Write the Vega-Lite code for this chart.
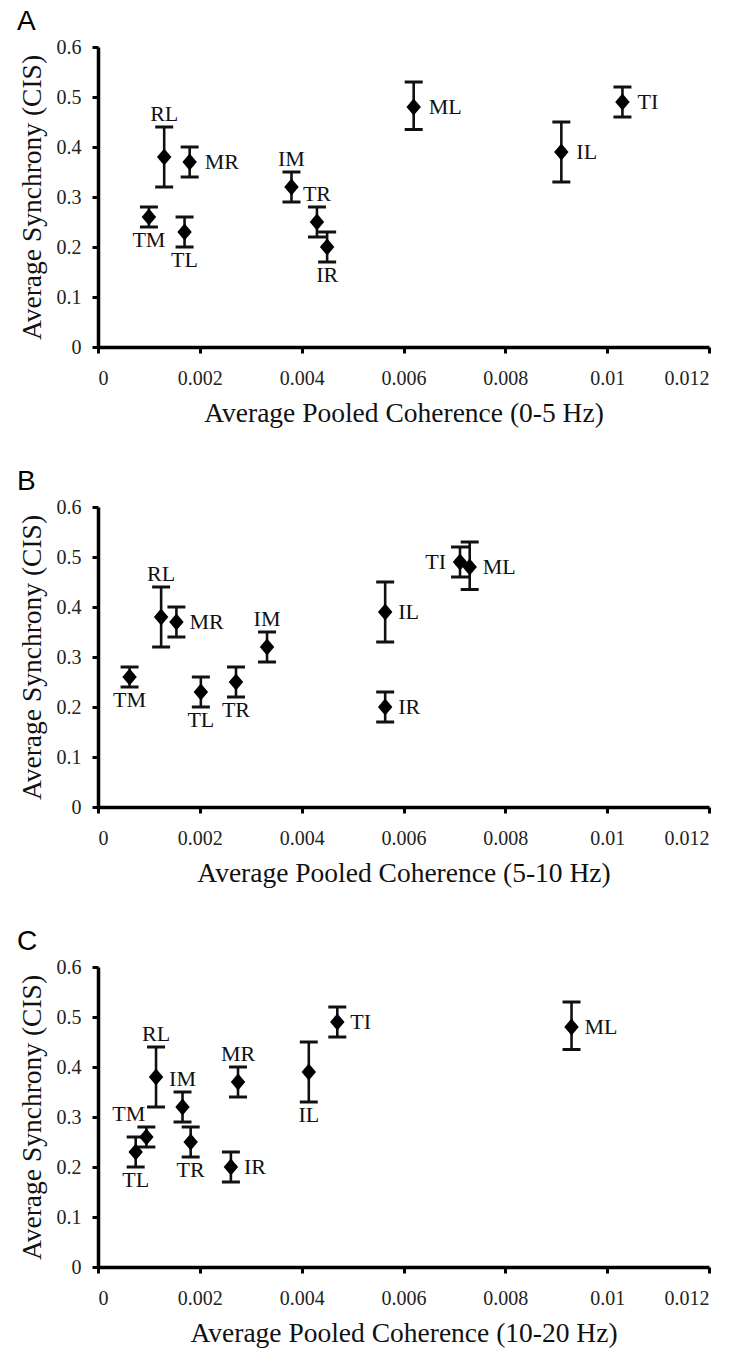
{
  "$schema": "https://vega.github.io/schema/vega-lite/v6.json",
  "background": "white",
  "padding": {"left": 17, "top": 8, "right": 3, "bottom": 1},
  "spacing": 41,
  "config": {
    "view": {"stroke": null},
    "axis": {
      "grid": false,
      "domainColor": "#000",
      "domainWidth": 3.5,
      "tickColor": "#000",
      "tickWidth": 3,
      "tickSize": 6,
      "labelFont": "Liberation Serif",
      "labelFontSize": 20,
      "labelColor": "#222",
      "titleFont": "Liberation Serif",
      "titleFontSize": 27.5,
      "titleFontWeight": "normal",
      "titleColor": "#111"
    },
    "axisX": {"labelPadding": 15, "titlePadding": 11, "labelFont": "Liberation Serif", "labelFontSize": 20},
    "axisY": {"labelPadding": 11, "titlePadding": 10, "labelFont": "Liberation Serif", "labelFontSize": 20},
    "title": {"font": "Liberation Sans", "fontSize": 28, "fontWeight": "normal", "color": "#000", "anchor": "start", "frame": "group", "dx": -81, "offset": 1, "baseline": "alphabetic"},
    "text": {"font": "Liberation Serif", "fontSize": 22, "color": "#111"}
  },
  "datasets": {
    "pts": [
      {"panel": "A", "site": "RL", "coh": 0.0013, "cis": 0.38, "lo": 0.32, "hi": 0.44},
      {"panel": "A", "site": "MR", "coh": 0.0018, "cis": 0.37, "lo": 0.34, "hi": 0.40},
      {"panel": "A", "site": "TM", "coh": 0.0010, "cis": 0.26, "lo": 0.24, "hi": 0.28},
      {"panel": "A", "site": "TL", "coh": 0.0017, "cis": 0.23, "lo": 0.20, "hi": 0.26},
      {"panel": "A", "site": "IM", "coh": 0.0038, "cis": 0.32, "lo": 0.29, "hi": 0.35},
      {"panel": "A", "site": "TR", "coh": 0.0043, "cis": 0.25, "lo": 0.22, "hi": 0.28},
      {"panel": "A", "site": "IR", "coh": 0.0045, "cis": 0.20, "lo": 0.17, "hi": 0.23},
      {"panel": "A", "site": "ML", "coh": 0.0062, "cis": 0.48, "lo": 0.435, "hi": 0.53},
      {"panel": "A", "site": "IL", "coh": 0.0091, "cis": 0.39, "lo": 0.33, "hi": 0.45},
      {"panel": "A", "site": "TI", "coh": 0.0103, "cis": 0.49, "lo": 0.46, "hi": 0.52},
      {"panel": "B", "site": "RL", "coh": 0.00124, "cis": 0.38, "lo": 0.32, "hi": 0.44},
      {"panel": "B", "site": "MR", "coh": 0.00154, "cis": 0.37, "lo": 0.34, "hi": 0.40},
      {"panel": "B", "site": "TM", "coh": 0.00062, "cis": 0.26, "lo": 0.24, "hi": 0.28},
      {"panel": "B", "site": "TL", "coh": 0.00202, "cis": 0.23, "lo": 0.20, "hi": 0.26},
      {"panel": "B", "site": "IM", "coh": 0.00332, "cis": 0.32, "lo": 0.29, "hi": 0.35},
      {"panel": "B", "site": "TR", "coh": 0.00271, "cis": 0.25, "lo": 0.22, "hi": 0.28},
      {"panel": "B", "site": "IR", "coh": 0.00564, "cis": 0.20, "lo": 0.17, "hi": 0.23},
      {"panel": "B", "site": "ML", "coh": 0.00730, "cis": 0.48, "lo": 0.435, "hi": 0.53},
      {"panel": "B", "site": "IL", "coh": 0.00564, "cis": 0.39, "lo": 0.33, "hi": 0.45},
      {"panel": "B", "site": "TI", "coh": 0.00711, "cis": 0.49, "lo": 0.46, "hi": 0.52},
      {"panel": "C", "site": "RL", "coh": 0.00114, "cis": 0.38, "lo": 0.32, "hi": 0.44},
      {"panel": "C", "site": "MR", "coh": 0.00275, "cis": 0.37, "lo": 0.34, "hi": 0.40},
      {"panel": "C", "site": "TM", "coh": 0.00095, "cis": 0.26, "lo": 0.24, "hi": 0.28},
      {"panel": "C", "site": "TL", "coh": 0.00074, "cis": 0.23, "lo": 0.20, "hi": 0.26},
      {"panel": "C", "site": "IM", "coh": 0.00166, "cis": 0.32, "lo": 0.29, "hi": 0.35},
      {"panel": "C", "site": "TR", "coh": 0.00182, "cis": 0.25, "lo": 0.22, "hi": 0.28},
      {"panel": "C", "site": "IR", "coh": 0.00261, "cis": 0.20, "lo": 0.17, "hi": 0.23},
      {"panel": "C", "site": "ML", "coh": 0.00930, "cis": 0.48, "lo": 0.435, "hi": 0.53},
      {"panel": "C", "site": "IL", "coh": 0.00414, "cis": 0.39, "lo": 0.33, "hi": 0.45},
      {"panel": "C", "site": "TI", "coh": 0.00470, "cis": 0.49, "lo": 0.46, "hi": 0.52}
    ]
  },
  "vconcat": [
    {
      "title": {"text": "A"},
      "width": 611,
      "height": 300,
      "data": {"name": "pts"},
      "transform": [{"filter": "datum.panel === 'A'"}],
      "encoding": {
        "x": {"field": "coh", "type": "quantitative", "scale": {"domain": [0, 0.012]}, "axis": {"values": [0, 0.002, 0.004, 0.006, 0.008, 0.01, 0.012], "format": "~g", "labelFont": "Liberation Serif", "labelFontSize": 20}, "title": "Average Pooled Coherence (0-5 Hz)"}
      },
      "layer": [
        {"mark": {"type": "rule", "color": "#111", "strokeWidth": 2.6}, "encoding": {"y": {"field": "lo", "type": "quantitative", "scale": {"domain": [0, 0.6]}, "axis": {"values": [0, 0.1, 0.2, 0.3, 0.4, 0.5, 0.6], "format": "~g", "labelFont": "Liberation Serif", "labelFontSize": 20}, "title": "Average Synchrony (CIS)"}, "y2": {"field": "hi"}}},
        {"mark": {"type": "tick", "orient": "horizontal", "color": "#111", "size": 18, "thickness": 3, "opacity": 1}, "encoding": {"y": {"field": "lo", "type": "quantitative", "scale": {"domain": [0, 0.6]}, "title": "Average Synchrony (CIS)"}}},
        {"mark": {"type": "tick", "orient": "horizontal", "color": "#111", "size": 18, "thickness": 3, "opacity": 1}, "encoding": {"y": {"field": "hi", "type": "quantitative", "scale": {"domain": [0, 0.6]}, "title": "Average Synchrony (CIS)"}}},
        {"mark": {"type": "point", "shape": "M-0.85,0L0,-1L0.85,0L0,1Z", "filled": true, "color": "#000", "size": 289, "opacity": 1}, "encoding": {"y": {"field": "cis", "type": "quantitative", "scale": {"domain": [0, 0.6]}, "title": "Average Synchrony (CIS)"}}},
        {"transform": [{"filter": {"field": "site", "oneOf": ["RL", "IM", "TR"]}}], "mark": {"type": "text", "baseline": "bottom", "dy": -1}, "encoding": {"y": {"field": "hi", "type": "quantitative", "scale": {"domain": [0, 0.6]}, "title": "Average Synchrony (CIS)"}, "text": {"field": "site"}}},
        {"transform": [{"filter": {"field": "site", "oneOf": ["TM", "TL", "IR"]}}], "mark": {"type": "text", "baseline": "top", "dy": 3}, "encoding": {"y": {"field": "lo", "type": "quantitative", "scale": {"domain": [0, 0.6]}, "title": "Average Synchrony (CIS)"}, "text": {"field": "site"}}},
        {"transform": [{"filter": {"field": "site", "oneOf": ["MR", "ML", "IL", "TI"]}}], "mark": {"type": "text", "align": "left", "baseline": "middle", "dx": 15}, "encoding": {"y": {"field": "cis", "type": "quantitative", "scale": {"domain": [0, 0.6]}, "title": "Average Synchrony (CIS)"}, "text": {"field": "site"}}}
      ]
    },
    {
      "title": {"text": "B"},
      "width": 611,
      "height": 300,
      "data": {"name": "pts"},
      "transform": [{"filter": "datum.panel === 'B'"}],
      "encoding": {
        "x": {"field": "coh", "type": "quantitative", "scale": {"domain": [0, 0.012]}, "axis": {"values": [0, 0.002, 0.004, 0.006, 0.008, 0.01, 0.012], "format": "~g", "labelFont": "Liberation Serif", "labelFontSize": 20}, "title": "Average Pooled Coherence (5-10 Hz)"}
      },
      "layer": [
        {"mark": {"type": "rule", "color": "#111", "strokeWidth": 2.6}, "encoding": {"y": {"field": "lo", "type": "quantitative", "scale": {"domain": [0, 0.6]}, "axis": {"values": [0, 0.1, 0.2, 0.3, 0.4, 0.5, 0.6], "format": "~g", "labelFont": "Liberation Serif", "labelFontSize": 20}, "title": "Average Synchrony (CIS)"}, "y2": {"field": "hi"}}},
        {"mark": {"type": "tick", "orient": "horizontal", "color": "#111", "size": 18, "thickness": 3, "opacity": 1}, "encoding": {"y": {"field": "lo", "type": "quantitative", "scale": {"domain": [0, 0.6]}, "title": "Average Synchrony (CIS)"}}},
        {"mark": {"type": "tick", "orient": "horizontal", "color": "#111", "size": 18, "thickness": 3, "opacity": 1}, "encoding": {"y": {"field": "hi", "type": "quantitative", "scale": {"domain": [0, 0.6]}, "title": "Average Synchrony (CIS)"}}},
        {"mark": {"type": "point", "shape": "M-0.85,0L0,-1L0.85,0L0,1Z", "filled": true, "color": "#000", "size": 289, "opacity": 1}, "encoding": {"y": {"field": "cis", "type": "quantitative", "scale": {"domain": [0, 0.6]}, "title": "Average Synchrony (CIS)"}}},
        {"transform": [{"filter": {"field": "site", "oneOf": ["RL", "IM"]}}], "mark": {"type": "text", "baseline": "bottom", "dy": -1}, "encoding": {"y": {"field": "hi", "type": "quantitative", "scale": {"domain": [0, 0.6]}, "title": "Average Synchrony (CIS)"}, "text": {"field": "site"}}},
        {"transform": [{"filter": {"field": "site", "oneOf": ["TM", "TL", "TR"]}}], "mark": {"type": "text", "baseline": "top", "dy": 3}, "encoding": {"y": {"field": "lo", "type": "quantitative", "scale": {"domain": [0, 0.6]}, "title": "Average Synchrony (CIS)"}, "text": {"field": "site"}}},
        {"transform": [{"filter": {"field": "site", "oneOf": ["MR", "ML", "IL", "IR"]}}], "mark": {"type": "text", "align": "left", "baseline": "middle", "dx": 13}, "encoding": {"y": {"field": "cis", "type": "quantitative", "scale": {"domain": [0, 0.6]}, "title": "Average Synchrony (CIS)"}, "text": {"field": "site"}}},
        {"transform": [{"filter": {"field": "site", "oneOf": ["TI"]}}], "mark": {"type": "text", "align": "right", "baseline": "middle", "dx": -14}, "encoding": {"y": {"field": "cis", "type": "quantitative", "scale": {"domain": [0, 0.6]}, "title": "Average Synchrony (CIS)"}, "text": {"field": "site"}}}
      ]
    },
    {
      "title": {"text": "C"},
      "width": 611,
      "height": 300,
      "data": {"name": "pts"},
      "transform": [{"filter": "datum.panel === 'C'"}],
      "encoding": {
        "x": {"field": "coh", "type": "quantitative", "scale": {"domain": [0, 0.012]}, "axis": {"values": [0, 0.002, 0.004, 0.006, 0.008, 0.01, 0.012], "format": "~g", "labelFont": "Liberation Serif", "labelFontSize": 20}, "title": "Average Pooled Coherence (10-20 Hz)"}
      },
      "layer": [
        {"mark": {"type": "rule", "color": "#111", "strokeWidth": 2.6}, "encoding": {"y": {"field": "lo", "type": "quantitative", "scale": {"domain": [0, 0.6]}, "axis": {"values": [0, 0.1, 0.2, 0.3, 0.4, 0.5, 0.6], "format": "~g", "labelFont": "Liberation Serif", "labelFontSize": 20}, "title": "Average Synchrony (CIS)"}, "y2": {"field": "hi"}}},
        {"mark": {"type": "tick", "orient": "horizontal", "color": "#111", "size": 18, "thickness": 3, "opacity": 1}, "encoding": {"y": {"field": "lo", "type": "quantitative", "scale": {"domain": [0, 0.6]}, "title": "Average Synchrony (CIS)"}}},
        {"mark": {"type": "tick", "orient": "horizontal", "color": "#111", "size": 18, "thickness": 3, "opacity": 1}, "encoding": {"y": {"field": "hi", "type": "quantitative", "scale": {"domain": [0, 0.6]}, "title": "Average Synchrony (CIS)"}}},
        {"mark": {"type": "point", "shape": "M-0.85,0L0,-1L0.85,0L0,1Z", "filled": true, "color": "#000", "size": 289, "opacity": 1}, "encoding": {"y": {"field": "cis", "type": "quantitative", "scale": {"domain": [0, 0.6]}, "title": "Average Synchrony (CIS)"}}},
        {"transform": [{"filter": {"field": "site", "oneOf": ["RL", "IM", "MR"]}}], "mark": {"type": "text", "baseline": "bottom", "dy": -1}, "encoding": {"y": {"field": "hi", "type": "quantitative", "scale": {"domain": [0, 0.6]}, "title": "Average Synchrony (CIS)"}, "text": {"field": "site"}}},
        {"transform": [{"filter": {"field": "site", "oneOf": ["TL", "TR", "IL"]}}], "mark": {"type": "text", "baseline": "top", "dy": 3}, "encoding": {"y": {"field": "lo", "type": "quantitative", "scale": {"domain": [0, 0.6]}, "title": "Average Synchrony (CIS)"}, "text": {"field": "site"}}},
        {"transform": [{"filter": {"field": "site", "oneOf": ["IR", "TI", "ML"]}}], "mark": {"type": "text", "align": "left", "baseline": "middle", "dx": 13}, "encoding": {"y": {"field": "cis", "type": "quantitative", "scale": {"domain": [0, 0.6]}, "title": "Average Synchrony (CIS)"}, "text": {"field": "site"}}},
        {"transform": [{"filter": {"field": "site", "oneOf": ["TM"]}}], "mark": {"type": "text", "align": "right", "baseline": "bottom", "dx": -1, "dy": -1}, "encoding": {"y": {"field": "hi", "type": "quantitative", "scale": {"domain": [0, 0.6]}, "title": "Average Synchrony (CIS)"}, "text": {"field": "site"}}}
      ]
    }
  ]
}
